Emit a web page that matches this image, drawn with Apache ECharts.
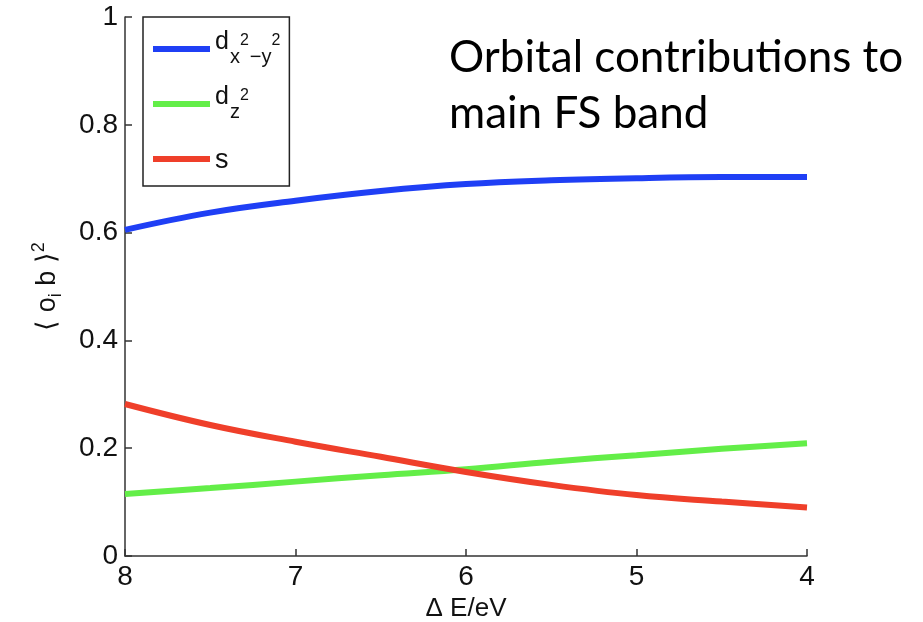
<!DOCTYPE html>
<html>
<head>
<meta charset="utf-8">
<script src="https://cdn.jsdelivr.net/npm/echarts@6/dist/echarts.min.js"></script>
<style>
html,body{margin:0;padding:0;background:#fff;}
#chart{width:923px;height:622px;}
</style>
</head>
<body>
<div id="chart"></div>
<script>
// ---- data ----
const energies = [8, 7.5, 7, 6.5, 6, 5.5, 5, 4.5, 4];
const seriesNames = ['dx2-y2', 'dz2', 's'];
const dx2y2 = [0.605, 0.637, 0.659, 0.677, 0.690, 0.697, 0.701, 0.703, 0.703];
const dz2   = [0.115, 0.126, 0.138, 0.150, 0.161, 0.175, 0.187, 0.199, 0.209];
const sOrb  = [0.282, 0.243, 0.212, 0.184, 0.156, 0.132, 0.113, 0.101, 0.090];
const xTicks = [8, 7, 6, 5, 4];
const yTicks = [0, 0.2, 0.4, 0.6, 0.8, 1];
const titleLines = ['Orbital contributions to', 'main FS band'];
const xName = 'Δ E/eV';

const colors = ['#1f3ff5', '#63ee48', '#ef3f2a'];
const values = [dx2y2, dz2, sOrb];

function pairs(ys) { return energies.map((x, i) => [x, ys[i]]); }

const legendLabels = {
  'dx2-y2': '{m|d}{sub|x}{sup|2}{sub|−y}{sup|2}',
  'dz2': '{m|d}{sub|z}{sup|2}',
  's': '{s|s}'
};

const chart = echarts.init(document.getElementById('chart'), null, {renderer: 'canvas'});
const font = 'Liberation Sans, Arial, Helvetica, sans-serif';

chart.setOption({
  animation: false,
  backgroundColor: '#ffffff',
  textStyle: { fontFamily: font },
  title: {
    text: titleLines.join('\n'),
    left: 449,
    top: 30,
    padding: 0,
    textStyle: {
      fontFamily: 'Lato, "Open Sans", sans-serif',
      fontSize: 44,
      fontWeight: 'normal',
      lineHeight: 56,
      color: '#000'
    }
  },
  grid: { left: 125, right: 116, top: 17, bottom: 66, containLabel: false, outerBoundsMode: 'none' },
  legend: {
    orient: 'vertical',
    left: 143,
    top: 17,
    padding: [12, 8, 7, 10],
    itemGap: 15,
    itemWidth: 57,
    itemHeight: 6,
    icon: 'rect',
    borderColor: '#222',
    borderWidth: 1.5,
    borderRadius: 0,
    backgroundColor: '#fff',
    data: seriesNames,
    formatter: function (name) { return legendLabels[name]; },
    textStyle: {
      color: '#111',
      fontFamily: font,
      fontSize: 24,
      lineHeight: 40,
      rich: {
        m:   { fontSize: 25, padding: [0, 1, 14, 0], fontFamily: font, color: '#111' },
        sub: { fontSize: 20, padding: [16, 0, 0, 0], fontFamily: font, color: '#111' },
        sup: { fontSize: 16, padding: [0, 1, 16, 0], fontFamily: font, color: '#111' },
        s:   { fontSize: 27, padding: [4, 0, 0, 0], fontFamily: font, color: '#111' }
      }
    }
  },
  xAxis: {
    type: 'value',
    min: 4, max: 8, interval: 1,
    inverse: true,
    name: xName,
    nameLocation: 'middle',
    nameGap: 40,
    nameTextStyle: { fontSize: 26, color: '#111', fontFamily: font },
    axisLine: { show: true, onZero: false, lineStyle: { color: '#333', width: 1.5 } },
    axisTick: { show: true, inside: true, length: 7, lineStyle: { color: '#333', width: 1.5 } },
    axisLabel: {
      margin: 7, fontSize: 28, color: '#111', fontFamily: font,
      customValues: xTicks
    },
    splitLine: { show: false }
  },
  yAxis: {
    type: 'value',
    min: 0, max: 1, interval: 0.2,
    name: '⟨ o{sub|i} b ⟩{sup|2}',
    nameLocation: 'middle',
    nameRotate: 90,
    nameGap: 59,
    nameTextStyle: {
      fontSize: 27, color: '#111', fontFamily: font,
      rich: {
        sub: { fontSize: 18, padding: [16, 0, 0, 0], fontFamily: font, color: '#111' },
        sup: { fontSize: 18, padding: [0, 0, 18, 0], fontFamily: font, color: '#111' }
      }
    },
    axisLine: { show: true, lineStyle: { color: '#333', width: 1.5 } },
    axisTick: { show: true, inside: true, length: 7, lineStyle: { color: '#333', width: 1.5 } },
    axisLabel: {
      margin: 7, fontSize: 28, color: '#111', fontFamily: font,
      formatter: function (v) { return String(Math.round(v * 10) / 10); }
    },
    splitLine: { show: false }
  },
  series: seriesNames.map((n, i) => ({
    name: n,
    type: 'line',
    data: pairs(values[i]),
    smooth: 0.4,
    showSymbol: false,
    symbol: 'none',
    color: colors[i],
    lineStyle: { color: colors[i], width: 6 },
    z: 3 + i
  }))
});
</script>
</body>
</html>
